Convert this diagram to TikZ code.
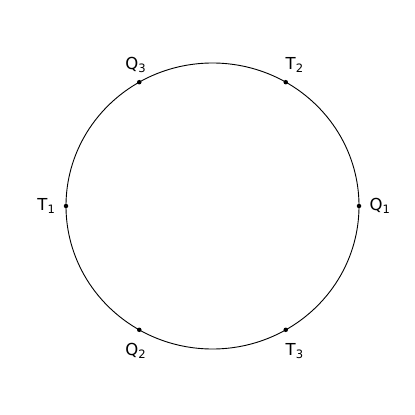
\documentclass[tikz,border=0pt]{standalone}
\usepackage{fontspec}
\setmainfont{DejaVu Sans}
\usetikzlibrary{positioning}

\begin{document}
\begin{tikzpicture}[
x=1pt, y=-1pt,
dot/.style={circle, fill=black, inner sep=0pt, minimum size=4.5pt},
lbl/.style={inner sep=0pt, font=\fontsize{16.5}{19}\selectfont},
]
\useasboundingbox (0,0) rectangle (415,415);

\draw[black, line width=0.9pt] (212.5,206) ellipse [x radius=146.5, y radius=143];

\node[dot] (q1) at (359,206) {};
\node[dot] (t2) at (285.75,82.2) {};
\node[dot] (q3) at (139.25,82.2) {};
\node[dot] (t1) at (66,206) {};
\node[dot] (q2) at (139.25,329.8) {};
\node[dot] (t3) at (285.75,329.8) {};

\node[lbl] (lq1) [right=8pt of q1] {Q\textsubscript{1}};
\node[lbl] (lt2) [above right=8pt and -2pt of t2] {T\textsubscript{2}};
\node[lbl] (lq3) [above left=8pt and -9pt of q3] {Q\textsubscript{3}};
\node[lbl] (lt1) [left=8pt of t1] {T\textsubscript{1}};
\node[lbl] (lq2) [below left=12pt and -9pt of q2] {Q\textsubscript{2}};
\node[lbl] (lt3) [below right=12pt and -2pt of t3] {T\textsubscript{3}};
\end{tikzpicture}
\end{document}
